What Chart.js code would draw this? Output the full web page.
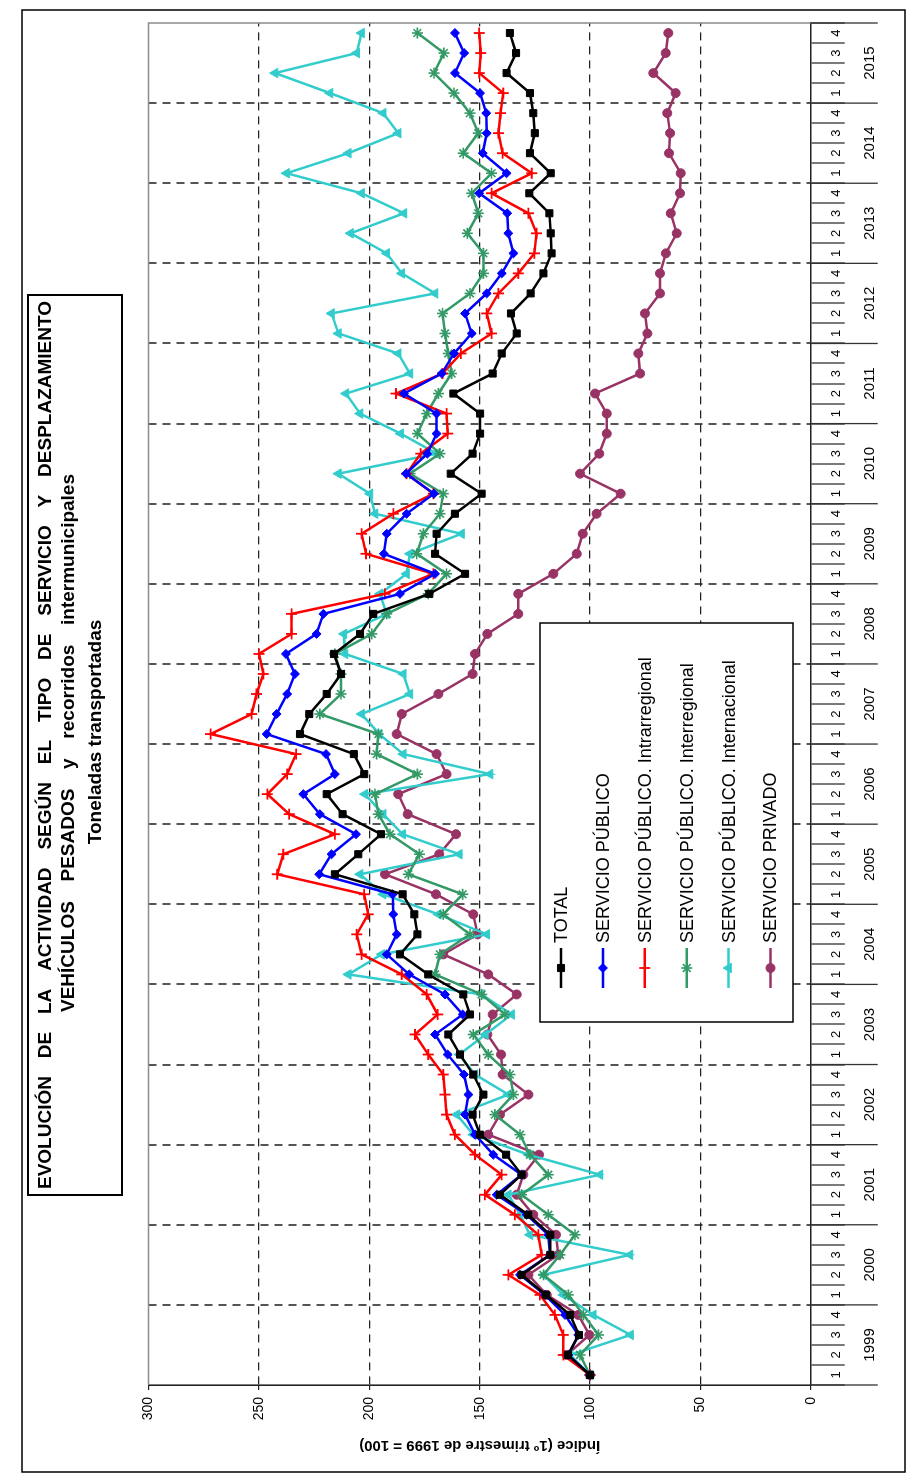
<!DOCTYPE html>
<html><head><meta charset="utf-8">
<script src="https://cdn.jsdelivr.net/npm/chart.js@4.4.1/dist/chart.umd.min.js"></script>
<style>
html,body{margin:0;padding:0;background:#fff;overflow:hidden;width:915px;height:1474px;}
#wrap{position:absolute;left:0;top:0;width:1474px;height:915px;transform-origin:0 0;transform:translate(0px,1474px) rotate(-90deg);background:#fff;}
canvas{display:block;}
</style></head><body>
<div id="wrap"><canvas id="c" width="1474" height="915"></canvas></div>
<script>
const years = ['1999','2000','2001','2002','2003','2004','2005','2006','2007','2008','2009','2010','2011','2012','2013','2014','2015'];
const quarterNames = ['1','2','3','4'];
const yTicks = [0,50,100,150,200,250,300];
const categories = [];
years.forEach(y => quarterNames.forEach(q => categories.push(y + ' T' + q)));

const total = [100,110,105,109,120,131,118,118,128,140.8, 131,138,149.8,153.2,148.3,152.9,158.9,164.2,154.4,157.4, 173.3,186.1,178.2,179.6,184.9,215.6,205,194.7,212.1,219.3, 202.3,207,231.4,227.2,219.3,212.8,216,204.2,198.2,172.8, 156.6,170.2,169.5,161.2,149.1,163.1,153.2,149.8,149.8,161.9, 144.1,140,133.2,135.8,126.9,121.1,117.4,117.8,118.4,127.5, 117.8,127.2,125,125.7,127.2,137.8,133.5,136.3];
const publico = [100,109.8,105.3,111.3,120.4,131.7,118.1,118.9,128.7,142.3, 131,143.8,152.1,156.6,155.1,157.1,164.5,170.2,157.7,165.7, 181.9,192.1,187.6,189.1,189.4,222.7,217.1,206,222.4,229.9, 215.6,219.6,246.5,242,237.2,233.7,237.8,223.9,220.8,186.1, 170.2,193.4,192.1,183.1,170.7,183.4,173.7,169.5,169.5,184.3, 167.2,161.6,153.6,156.6,146.8,140,134.7,137,137.5,150.2, 137.8,148.6,146.8,147,149.8,161.2,157,161.2];
const intrarregional = [100,112.1,112.1,115.9,122.7,137,121.9,123.4,134,147.6, 140,152.1,161.2,165,165.7,166.5,173.3,179.3,169,174, 185.3,203.5,205.7,200.5,202.3,241.7,239,215.6,236.3,246.2, 237.2,233.2,271.9,253.3,251.1,248,250,235.2,235.2,192.9, 171,201.5,203.5,189.1,171,183.1,176.7,164.5,165,187.9, 166.8,158.5,144.6,146.8,141.5,132.5,125.2,124.2,127.9,144.6, 126.4,139.6,141.5,140.5,139.3,150.2,149.5,150.2];
const interregional = [100,104.5,96.2,103,109.8,121.1,113.6,106.8,118.9,131, 118.9,127.2,131.7,143.1,134.7,136.3,146.1,152.9,138.5,149.1, 170.2,168,154.4,166.5,157.7,182.3,177.3,190.6,195.9,197.4, 178.2,196.7,195.9,222.4,212.8,212.8,215.6,198.9,192.1,173.3, 165,178.5,175.5,168,166.5,181.6,168,178.2,174,168.7, 162.7,164.2,165.7,166.8,154.4,148.3,148.3,155.6,150.6,153.6, 144.6,157.4,150.6,154.4,161.6,170.7,166.2,178.2];
const internacional = [100,109,81.6,98.5,112.1,121.1,81.9,127.2,131.7,137, 95.5,127.9,152.9,160.4,137,152.1,159.2,147.4,135.5,149.1, 209.5,194.4,146.8,168.7,193.7,204.2,159.2,184.9,193.7,202, 145.3,184.6,195.5,203.5,181.6,184.6,211,211.5,192.1,195.2, 183.1,181.6,158.2,197.4,199.7,214,169.5,185.8,204.2,210.6, 181.6,186.9,214,217.1,170.2,185.3,192.1,208.5,184.3,203.5, 237.5,209.5,186.9,193.7,217.8,242.7,205.7,203.5];
const privado = [100,110.6,100.3,105.3,119.6,127.9,114.4,115.4,125.7,133.2, 130.2,123.1,146.1,140.8,127.9,139.6,140.3,146.5,144.1,133.2, 146.1,166.5,150.9,152.9,169.8,192.9,168.3,160.7,182.6,186.9, 165,169.5,187.6,185.3,168.7,153.2,152.1,146.5,132.5,132.5, 116.6,106,103.3,97,86.1,104.5,95.8,92.4,92.4,97.7, 77.3,78.1,74,75.1,68.3,68.3,65.6,60.7,63.4,59.2, 58.9,64.2,63.7,65,61.2,71.3,65.7,64.5];

const seriesLabels = ['TOTAL','SERVICIO PÚBLICO','SERVICIO PÚBLICO. Intrarregional','SERVICIO PÚBLICO. Interregional','SERVICIO PÚBLICO. Internacional','SERVICIO PRIVADO'];
const titleLines = ['EVOLUCIÓN DE LA ACTIVIDAD SEGÚN EL TIPO DE SERVICIO Y DESPLAZAMIENTO','VEHÍCULOS PESADOS y recorridos intermunicipales','Toneladas transportadas'];
const yTitle = 'Índice (1º trimestre de 1999 = 100)';

const FONT = "'Liberation Sans', Arial, Helvetica, sans-serif";
Chart.defaults.font.family = FONT;
Chart.defaults.color = '#000';

function ds(label, data, color, style, radius, lw) {
  return {label, data, borderColor: color, backgroundColor: color, pointBackgroundColor: color,
    pointBorderColor: color, pointStyle: style, pointRadius: radius, pointBorderWidth: lw,
    borderWidth: 2.5, tension: 0, fill: false, clip: false};
}
const datasets = [
  ds(seriesLabels[0], total, '#000000', 'rect', 5, 1),
  ds(seriesLabels[1], publico, '#0000FF', 'rectRot', 4.5, 1),
  ds(seriesLabels[2], intrarregional, '#FF0000', 'cross', 5.5, 1.8),
  ds(seriesLabels[3], interregional, '#339966', 'star', 5.5, 1.6),
  ds(seriesLabels[4], internacional, '#33CCCC', 'triangle', 5.5, 1),
  ds(seriesLabels[5], privado, '#993366', 'circle', 4.5, 1)
];

function justify(ctx, text, x0, x1, y) {
  const words = text.split(' ');
  const ws = words.map(t => ctx.measureText(t).width);
  const sum = ws.reduce((s, v) => s + v, 0);
  const gap = (x1 - x0 - sum) / (words.length - 1);
  let cx = x0;
  ctx.textAlign = 'left';
  words.forEach((t, i) => { ctx.fillText(t, cx, y); cx += ws[i] + gap; });
}

const decor = {
  id: 'decor',
  beforeDraw(chart) {
    const ctx = chart.ctx;
    ctx.save();
    ctx.fillStyle = '#fff';
    ctx.fillRect(0, 0, chart.width, chart.height);
    ctx.restore();
  },
  beforeDatasetsDraw(chart) {
    const ctx = chart.ctx, a = chart.chartArea, xs = chart.scales.x;
    ctx.save();
    ctx.strokeStyle = '#8c8c8c'; ctx.lineWidth = 1.5;
    ctx.beginPath(); ctx.moveTo(a.left, a.top); ctx.lineTo(a.right, a.top); ctx.lineTo(a.right, a.bottom); ctx.stroke();
    ctx.strokeStyle = '#333'; ctx.lineWidth = 1.3;
    for (let k = 0; k <= years.length; k++) {
      let px;
      if (k === 0) px = xs.left; else if (k === years.length) px = xs.right;
      else px = (xs.getPixelForValue(k * 4 - 1) + xs.getPixelForValue(k * 4)) / 2;
      ctx.beginPath(); ctx.moveTo(px, a.bottom); ctx.lineTo(px, a.bottom + 67); ctx.stroke();
    }
    ctx.fillStyle = '#000'; ctx.font = '15px ' + FONT; ctx.textAlign = 'center'; ctx.textBaseline = 'middle';
    years.forEach((y, k) => {
      const cx = (xs.getPixelForValue(k * 4) + xs.getPixelForValue(k * 4 + 3)) / 2;
      ctx.fillText(y, cx, a.bottom + 59);
    });
    ctx.restore();
  },
  afterDraw(chart) {
    const ctx = chart.ctx;
    ctx.save();
    ctx.strokeStyle = '#000'; ctx.lineWidth = 1.5;
    ctx.strokeRect(2, 22, 1462, 883);
    ctx.lineWidth = 2;
    ctx.fillStyle = '#fff';
    ctx.fillRect(279, 28, 900, 94);
    ctx.strokeRect(279, 28, 900, 94);
    ctx.fillStyle = '#000';
    ctx.font = 'bold 19px ' + FONT;
    ctx.textBaseline = 'middle';
    justify(ctx, titleLines[0], 285, 1173, 46);
    justify(ctx, titleLines[1], 462, 1000, 69);
    ctx.textAlign = 'center';
    ctx.fillText(titleLines[2], 742, 96);
    const L = 452, T = 540, R = 851, B = 793;
    ctx.fillStyle = '#fff'; ctx.fillRect(L, T, R - L, B - T);
    ctx.strokeStyle = '#000'; ctx.lineWidth = 1.5; ctx.strokeRect(L, T, R - L, B - T);
    ctx.font = '18px ' + FONT; ctx.textAlign = 'left'; ctx.textBaseline = 'middle';
    chart.data.datasets.forEach((d, i) => {
      const yy = 561 + i * 41.9;
      ctx.strokeStyle = d.borderColor; ctx.lineWidth = 2.5;
      ctx.beginPath(); ctx.moveTo(486, yy); ctx.lineTo(526, yy); ctx.stroke();
      ctx.fillStyle = d.pointBackgroundColor; ctx.strokeStyle = d.pointBorderColor; ctx.lineWidth = d.pointBorderWidth;
      if (Chart.helpers && Chart.helpers.drawPoint) {
        Chart.helpers.drawPoint(ctx, {pointStyle: d.pointStyle, radius: d.pointRadius, rotation: 0, borderWidth: d.pointBorderWidth}, 506, yy);
      }
      ctx.fillStyle = '#000';
      ctx.fillText(d.label, 531, yy + 1);
    });
    ctx.restore();
  }
};

new Chart(document.getElementById('c'), {
  type: 'line',
  data: {labels: categories, datasets},
  options: {
    responsive: false, animation: false, events: [],
    layout: {padding: {left: 16, top: 148.6, right: 23, bottom: 34.3}},
    plugins: {legend: {display: false}, tooltip: {enabled: false}, title: {display: false}},
    scales: {
      x: {
        type: 'category', offset: true,
        grid: {offset: true, drawOnChartArea: true, drawTicks: true, tickLength: 34,
          color: c => (c.index % 4 === 0 && c.index > 0 && c.index < categories.length) ? '#555' : 'rgba(0,0,0,0)',
          lineWidth: 2, tickColor: '#333', tickWidth: 1.3},
        border: {display: true, color: '#222', width: 1.6, dash: [8, 6]},
        ticks: {autoSkip: false, maxRotation: 0, minRotation: 0, padding: -16, color: '#000',
          font: {size: 13}, callback: (v, i) => quarterNames[i % 4]},
        afterFit: s => { s.height = 70; }
      },
      y: {
        min: 0, max: 300,
        afterBuildTicks: s => { s.ticks = yTicks.map(v => ({value: v})); },
        grid: {drawTicks: true, tickLength: 5,
          color: c => (c.tick && c.tick.value > 0 && c.tick.value < 300) ? '#222' : 'rgba(0,0,0,0)',
          lineWidth: 1.2, tickColor: '#222', tickWidth: 1.2},
        border: {display: true, color: '#222', width: 1.6, dash: [8, 6]},
        ticks: {padding: 7, color: '#000', font: {size: 14}},
        title: {display: true, text: yTitle, color: '#000', font: {size: 15, weight: 'bold'}, padding: {top: 4, bottom: 0}},
        afterFit: s => { s.width = 73; }
      }
    }
  },
  plugins: [decor]
});
</script>
</body></html>
